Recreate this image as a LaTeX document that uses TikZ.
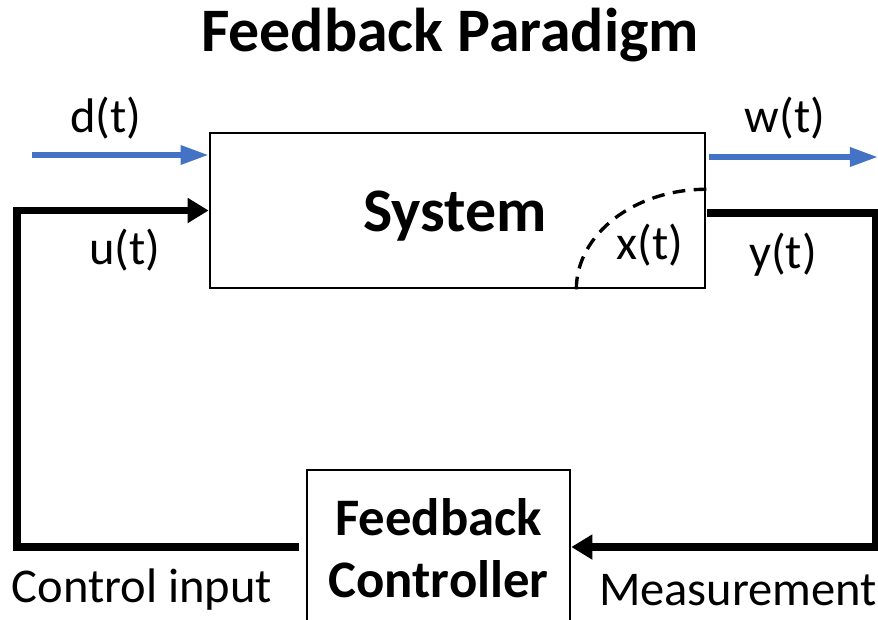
\documentclass[tikz,border=0pt]{standalone}
\usepackage{fontspec}
\setmainfont{Carlito}
\usetikzlibrary{arrows.meta, positioning}
\definecolor{sigblue}{HTML}{4472C4}
\tikzset{
x=0.025cm, y=-0.025cm, % one unit is one pixel of the reference
block/.style={draw, line width=1.8pt, inner sep=0pt}, % the two boxes
loopline/.style={line width=5pt, -{Triangle[length=15pt, width=17pt]}}, % the feedback loop
signal/.style={sigblue, line width=4pt, -{Triangle[length=20pt, width=13pt]}}, % disturbance and output
lbl/.style={font=\fontsize{34.5}{40}\selectfont, inner sep=0pt}, % signal names
}

\begin{document}
\begin{tikzpicture}
        \clip (0,0) rectangle (878,619);
        \node[font=\fontsize{44}{50}\selectfont\bfseries] (title) at (450,35) {Feedback Paradigm};

        \node[block, minimum width=12.375cm, minimum height=3.875cm] (sys) at (457.5,210.5) {};
        \node[font=\fontsize{44}{50}\selectfont\bfseries] (systext) at (455,216) {System};
        \node[block, minimum width=6.575cm, minimum height=4.3cm] (ctrl) at (438.5,556) {};
        \node[font=\fontsize{37.5}{44}\selectfont\bfseries, align=center] (ctrltext) at (438.5,548) {Feedback\\Controller};

        \coordinate (din) at (32,155);
        \coordinate (wstart) at (709,157);
        \coordinate (wend) at (878,157);
        \coordinate (yout) at (707,213);
        \coordinate (rc) at (875,547);
        \coordinate (lc) at (17,547);

        \draw[signal] (din) -- (din -| sys.west);
        \draw[signal] (wstart) -- (wend);
        \draw[loopline, shorten <=5pt] (ctrl.west |- lc) -- (lc) |- (sys.west);
        \draw[loopline] (yout) -| (rc) -- (rc -| ctrl.east);

        \draw[line width=2.4pt, dash pattern=on 9pt off 6pt]
          (sys.south east) ++(-130,0) arc[start angle=180, end angle=90, x radius=3.25cm, y radius=2.5cm];

        \node[lbl] (d) at (106,118) {d(t)};
        \node[lbl] (w) at (785,118) {w(t)};
        \node[lbl] (u) at (125,250) {u(t)};
        \node[lbl] (y) at (783,255) {y(t)};
        \node[lbl] (x) at (650,245) {x(t)};
        \node[lbl] (cin) at (142,590) {Control input};
        \node[lbl] (meas) at (738,590) {Measurement};
      \end{tikzpicture}
\end{document}
